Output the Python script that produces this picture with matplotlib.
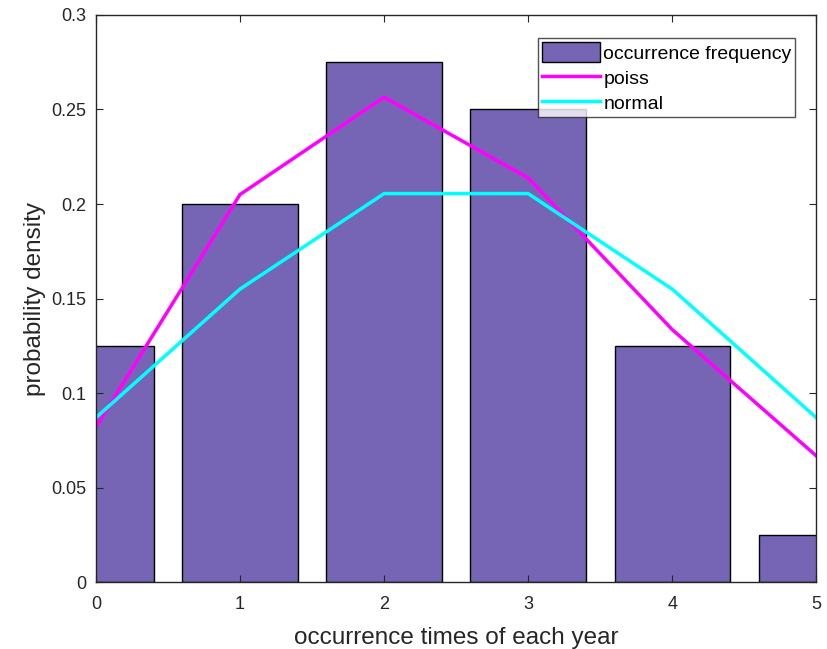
import numpy as np
import matplotlib.pyplot as plt

plt.rcParams['font.family'] = ['Liberation Sans', 'DejaVu Sans']

years = [0, 1, 2, 3, 4, 5]
freq = [0.125, 0.2, 0.275, 0.25, 0.125, 0.025]
poiss = [0.082, 0.205, 0.2565, 0.2138, 0.1336, 0.0668]
normal = [0.087, 0.155, 0.2055, 0.2055, 0.155, 0.087]

fig = plt.figure(figsize=(8.27, 6.49), dpi=100)
ax = fig.add_axes([0.116, 0.103, 0.871, 0.874])

b = ax.bar(years, freq, width=0.8, color='#7565b4', edgecolor='black', linewidth=1,
           label='occurrence frequency')
l1, = ax.plot(years, poiss, color='#ff00ff', linewidth=2.5, label='poiss')
l2, = ax.plot(years, normal, color='#00ffff', linewidth=2.5, label='normal')

ax.set_xlim(0, 5)
ax.set_ylim(0, 0.3)
ax.set_xticks(years)
ax.set_yticks([0, 0.05, 0.1, 0.15, 0.2, 0.25, 0.3])
ax.set_yticklabels(['0', '0.05', '0.1', '0.15', '0.2', '0.25', '0.3'])
ax.tick_params(axis='y', pad=7)
ax.tick_params(axis='x', pad=10)
ax.tick_params(direction='in', top=True, right=True, labelsize=13,
               colors='#262626', length=5)
for s in ax.spines.values():
    s.set_color('#262626')
    s.set_linewidth(1)

ax.set_xlabel('occurrence times of each year', fontsize=17.5, color='#262626', labelpad=10)
ax.set_ylabel('probability density', fontsize=17.5, color='#262626', labelpad=4)

leg = ax.legend([b, l1, l2], ['occurrence frequency', 'poiss', 'normal'],
                loc='upper right', bbox_to_anchor=(0.971, 0.959), borderaxespad=0,
                fontsize=14, frameon=True, fancybox=False,
                edgecolor='#262626', borderpad=0.2, handlelength=3.0,
                handleheight=1.2, handletextpad=0.15, labelspacing=0.25)
leg.get_frame().set_linewidth(1)

fig.savefig('out.png', dpi=100)
